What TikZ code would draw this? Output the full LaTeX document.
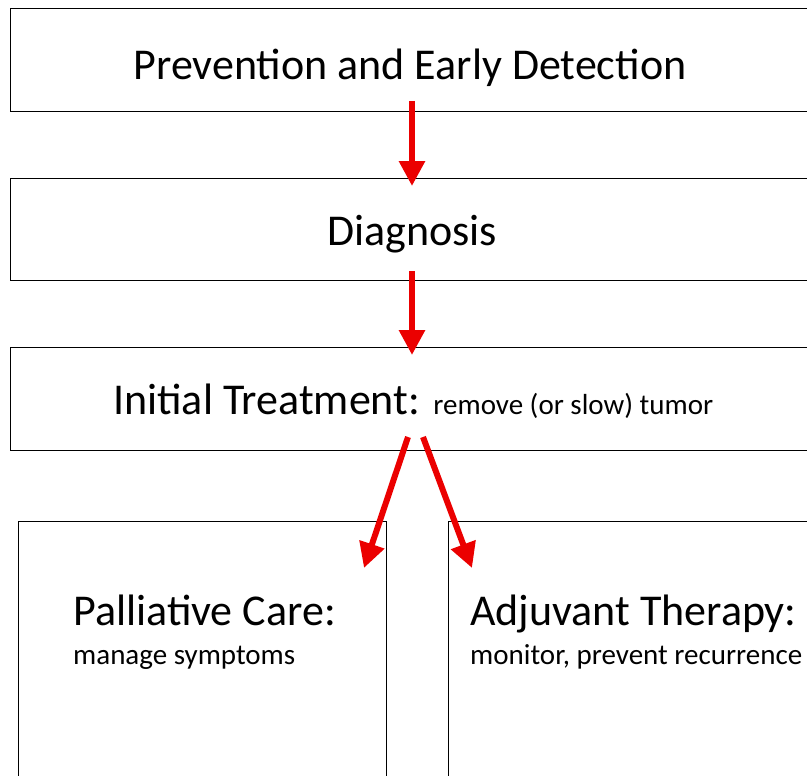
\documentclass[tikz,border=0pt]{standalone}
\usepackage{fontspec}
\setmainfont{Carlito}
\usetikzlibrary{arrows.meta}
\begin{document}
\begin{tikzpicture}[x=1pt,y=-1pt,
  box/.style={draw=black,line width=1.4pt,rectangle,inner sep=0pt,anchor=north west},
  flow/.style={draw={rgb,255:red,235;green,0;blue,0},line width=6pt,
    -{Triangle[length=25pt,width=25pt]}},
  big/.style={font=\fontsize{44}{52}\selectfont,inner sep=0pt},
  small/.style={font=\fontsize{29}{34}\selectfont,inner sep=0pt}]
\useasboundingbox (0,0) rectangle (807,776);
\clip (0,0) rectangle (807,776);
\node[box,minimum width=830pt,minimum height=103pt] (b1) at (10,8) {};
\node[box,minimum width=830pt,minimum height=102pt] (b2) at (10,178) {};
\node[box,minimum width=830pt,minimum height=103pt] (b3) at (10,347) {};
\node[box,minimum width=368pt,minimum height=300pt] (b4) at (18,521) {};
\node[box,minimum width=400pt,minimum height=300pt] (b5) at (448,521) {};
\node[big,anchor=base] (t1) at (410,80) {Prevention and Early Detection};
\node[big,anchor=base] (t2) at (412,245) {Diagnosis};
\node[big,anchor=base west] (t3) at (113,414) {Initial Treatment: {\fontsize{29}{34}\selectfont remove (or slow) tumor}};
\node[big,anchor=base west] (t4) at (73,625) {Palliative Care:};
\node[small,anchor=base west] (s4) at (73,664) {manage symptoms};
\node[big,anchor=base west] (t5) at (470,625) {Adjuvant Therapy:};
\node[small,anchor=base west] (s5) at (470,664) {monitor, prevent recurrence};
\coordinate (a1s) at (412,101);
\coordinate (a1e) at (412,186);
\coordinate (a2s) at (412,271);
\coordinate (a2e) at (412,355);
\coordinate (a3s) at (408,437);
\coordinate (a3e) at (364,568);
\coordinate (a4s) at (423,437);
\coordinate (a4e) at (472,568);
\draw[flow] (a1s) -- (a1e);
\draw[flow] (a2s) -- (a2e);
\draw[flow] (a3s) -- (a3e);
\draw[flow] (a4s) -- (a4e);
\end{tikzpicture}
\end{document}
